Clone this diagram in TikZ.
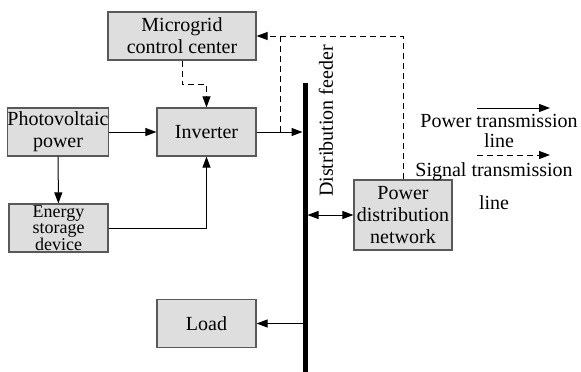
\documentclass[tikz,border=0pt]{standalone}
\usepackage{fontspec}
\setmainfont{Liberation Serif}
\usetikzlibrary{arrows.meta,positioning}
\begin{document}
\begin{tikzpicture}[x=1pt,y=-1pt,>={Triangle[length=11pt,width=8pt]},line width=1pt,
  every node/.style={font=\fontsize{20}{22}\selectfont}]
    \tikzset{blk/.style={draw=black!65,fill=black!13,line width=1.2pt,minimum width=99pt,minimum height=48pt,inner sep=0pt,align=center}};
    \tikzset{sig/.style={dash pattern=on 6pt off 4pt}};
    \useasboundingbox (0,0) rectangle (581,372);
    \node[blk,minimum width=148pt] (mcc) at (182,36) {Microgrid\\control center};
    \node[blk,minimum width=100pt] (pv) at (58,132) {Photovoltaic\\power};
    \node[blk] (inv) at (206.5,132) {Inverter};
    \node[blk,font=\fontsize{18}{16.5}\selectfont] (ess) at (58.5,228) {Energy\\storage\\device};
    \node[blk] (load) at (206.5,323.5) {Load};
    \node[blk,minimum width=98pt,minimum height=70pt] (pdn) at (403,215) {Power\\distribution\\network};
    \coordinate (feedtop) at (305,83);
    \coordinate (feedbot) at (305,372);
    \coordinate (tap) at (280,132);
    \node[rotate=90] (feedlbl) at (326,121) {Distribution feeder};
    % power lines
    {
      \path[->]
        (pv) edge (inv)
        (pv) edge (ess)
        ;
      \draw[->] (ess.east) -| (inv.south);
      \draw[->,shorten >=2.5pt] (inv.east) -- (inv.east -| feedtop);
      \draw[<->,shorten <=2.5pt] (feedtop |- pdn.west) -- (pdn.west);
      \draw[->,shorten <=2.5pt] (feedtop |- load.east) -- (load.east);
    }
    % signal lines
    \draw[sig,->] (mcc.south) -- ++(0,24) -| (inv.north);
    \draw[sig,->] (tap) |- (mcc.east);
    \draw[sig] (tap |- mcc.east) -| (pdn.north);
    \draw[line width=5pt] (feedtop) -- (feedbot);
    % legend
    \coordinate (pw1) at (477,108);
    \coordinate (pw2) at (550,108);
    \coordinate (sg1) at (477,155);
    \coordinate (sg2) at (550,155);
    \draw[->] (pw1) -- (pw2);
    \draw[sig,->] (sg1) -- (sg2);
    \node[align=center,font=\fontsize{20}{20}\selectfont] (pwtxt) at (499,131) {Power transmission\\line};
    \node[align=center,font=\fontsize{20}{20}\selectfont] (sgtxt) at (494,186) {Signal transmission\\[13pt]line};
\end{tikzpicture}
\end{document}
